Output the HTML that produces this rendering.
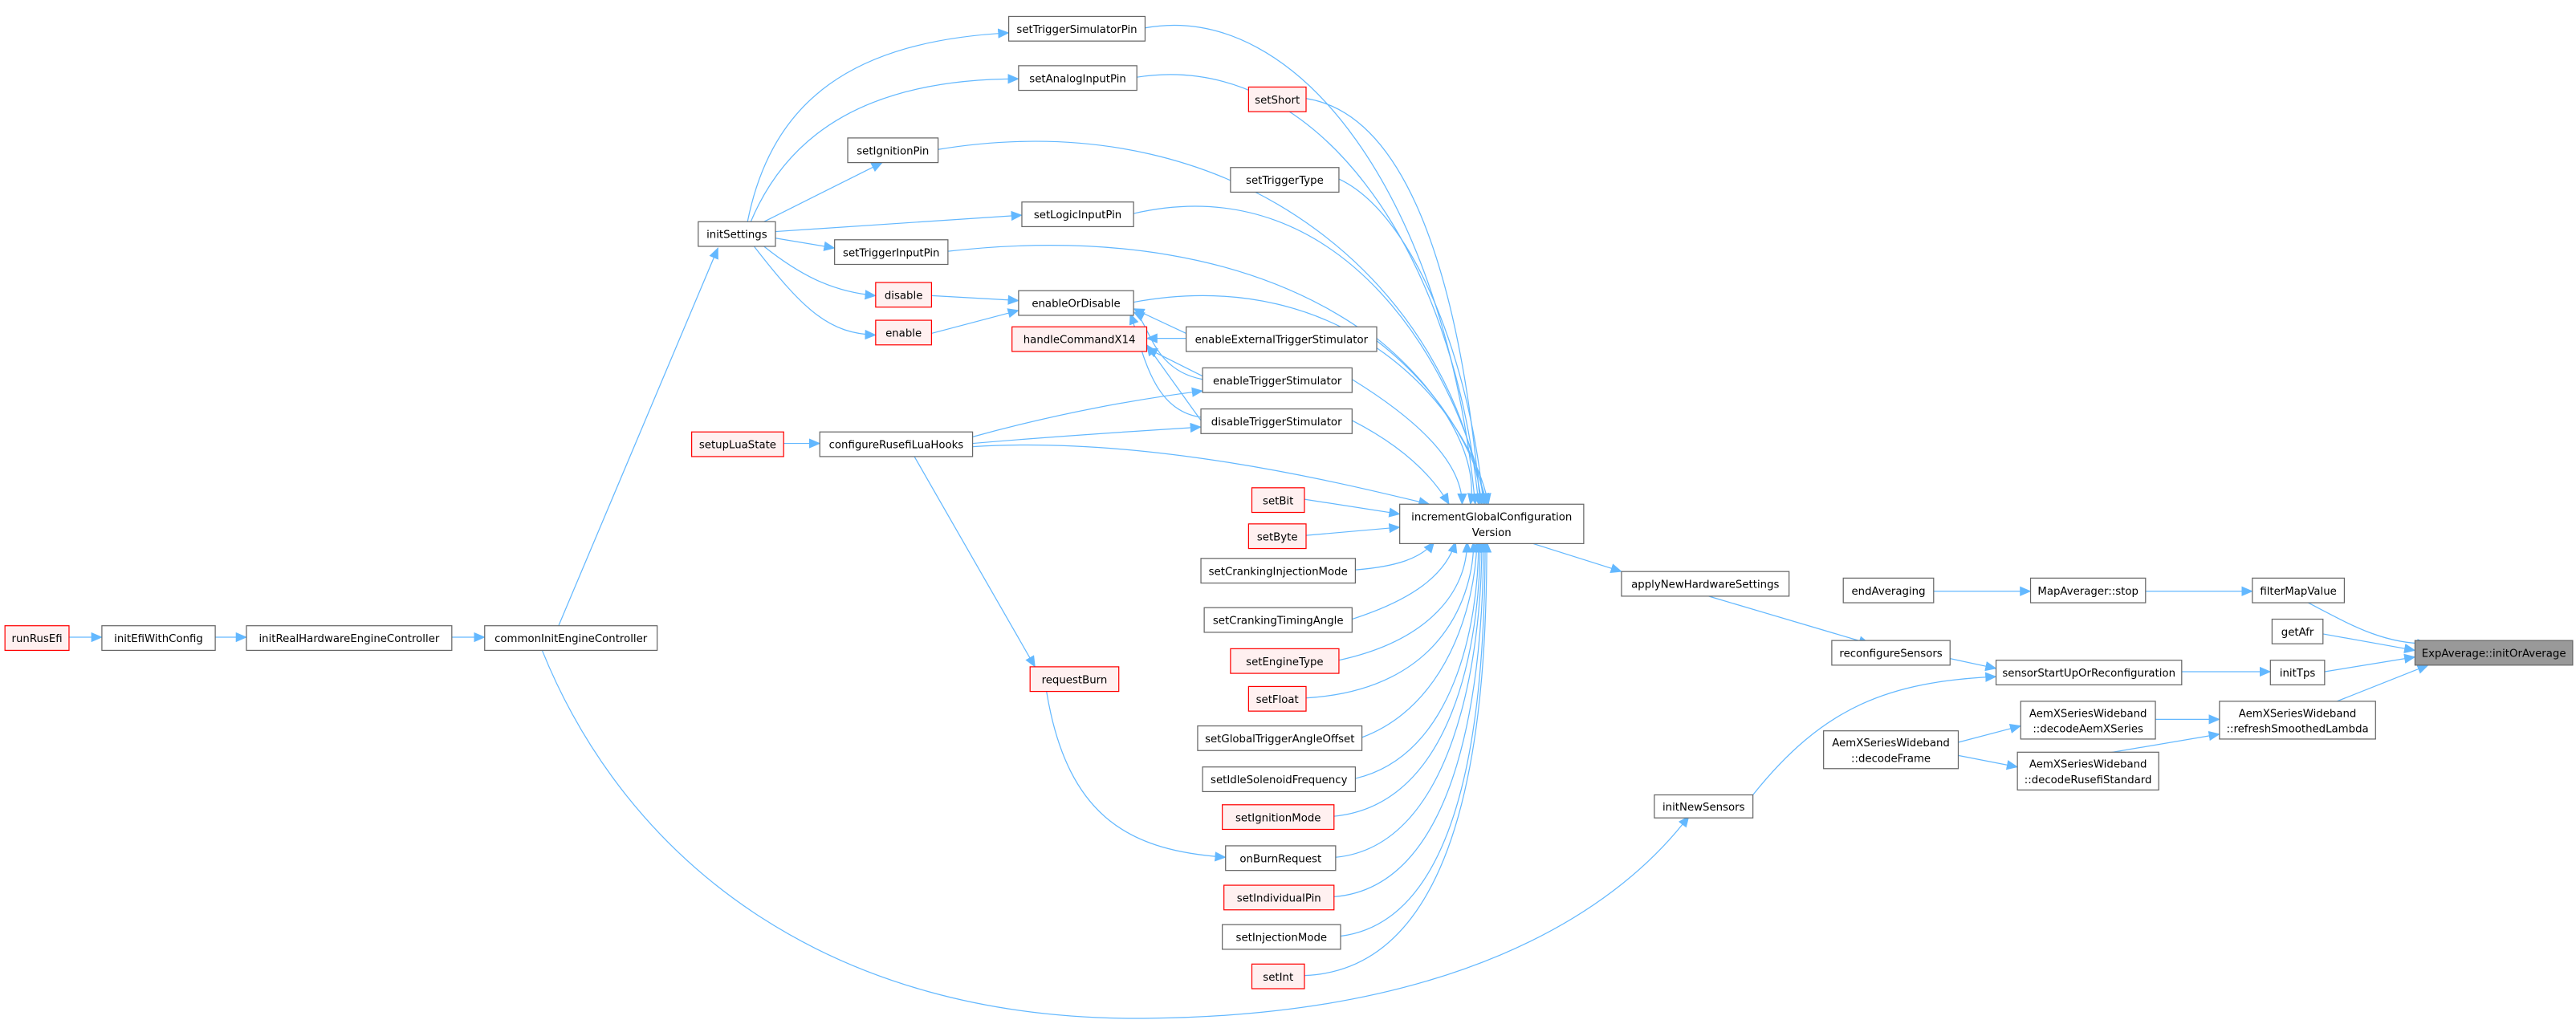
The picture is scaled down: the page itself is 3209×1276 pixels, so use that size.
<!DOCTYPE html>
<html><head><meta charset="utf-8"><style>
html,body{margin:0;padding:0;background:#fff;}
svg{display:block;}
text{font-family:"DejaVu Sans","Liberation Sans",sans-serif;font-size:6.5px;fill:#000;}
.n{fill:#fff;stroke:#666;stroke-width:0.6;}
.r{fill:#fff0f0;stroke:#ff0000;stroke-width:0.6;}
.g{fill:#999;stroke:#666;stroke-width:0.6;}
.e{fill:none;stroke:#63b8ff;stroke-width:0.6;}
</style></head><body>
<svg width="3209" height="1276" viewBox="0 0 1568 623.5" xmlns="http://www.w3.org/2000/svg">
<defs><marker id="a" markerUnits="userSpaceOnUse" markerWidth="7" markerHeight="6" refX="6.5" refY="3" orient="auto"><path d="M0,0 L7,3 L0,6 z" fill="#63b8ff"/></marker></defs>
<g class="e" marker-end="url(#a)">
<path d="M42,388 L62,388"/>
<path d="M131,388 L150,388"/>
<path d="M275,388 L295,388"/>
<path d="M340,381 L437,151"/>
<path d="M330,396 C380,520 500,623 700,620 C880,618 980,560 1028,497"/>
<path d="M455,135 C470,60 520,25 614,20"/>
<path d="M457,135 C480,80 530,48 620,48"/>
<path d="M465,135 L537,99"/>
<path d="M472,141 L622,131"/>
<path d="M472,145 L508,151"/>
<path d="M465,150 C490,170 510,178 533,180"/>
<path d="M459,150 C490,190 505,203 533,204"/>
<path d="M567,180 L620,183"/>
<path d="M567,203 L620,189"/>
<path d="M477,270 L499,270"/>
<path d="M556,277 L630,406"/>
<path d="M637,421 C650,500 690,518 746,522"/>
<path d="M1067,484 C1110,430 1150,415 1215,412"/>
<path d="M1161,360 L1236,360"/>
<path d="M1306,360 L1371,360"/>
<path d="M1414,386 L1470,396"/>
<path d="M1327,409 L1382,409"/>
<path d="M1415,409 L1470,400"/>
<path d="M1405,367 C1430,380 1450,392 1478,392"/>
<path d="M1420,428 L1478,405"/>
<path d="M1312,438 L1351,438"/>
<path d="M1192,452 L1230,442"/>
<path d="M1192,460 L1228,467"/>
<path d="M1280,459 L1351,447"/>
<path d="M1187,401 L1215,407"/>
<path d="M1040,363 L1138,392"/>
<path d="M930,330 L987,348"/>
<path d="M697,17 C790,0 880,120 898,307"/>
<path d="M692,47 C800,30 885,150 900,307"/>
<path d="M795,60 C860,70 890,180 901,307"/>
<path d="M571,91 C760,60 885,180 902,307"/>
<path d="M815,109 C860,130 895,220 903,307"/>
<path d="M690,130 C820,100 890,230 904,307"/>
<path d="M577,153 C780,130 885,220 905,307"/>
<path d="M690,184 C820,160 895,250 906,307"/>
<path d="M838,206 C880,240 900,280 895,307"/>
<path d="M823,231 C870,260 890,285 890,307"/>
<path d="M823,256 C860,275 875,295 882,307"/>
<path d="M592,272 C700,265 820,295 870,307"/>
<path d="M794,304 L852,313"/>
<path d="M795,326 L852,321"/>
<path d="M825,347 C850,345 865,340 873,330"/>
<path d="M823,377 C860,365 880,350 886,330"/>
<path d="M815,402 C870,390 893,360 893,330"/>
<path d="M795,425 C880,420 897,360 897,330"/>
<path d="M829,449 C880,430 898,370 899,330"/>
<path d="M825,474 C885,460 900,380 900,330"/>
<path d="M812,497 C885,490 901,390 901,330"/>
<path d="M813,522 C885,515 902,400 902,330"/>
<path d="M812,546 C890,540 903,410 903,330"/>
<path d="M816,570 C895,560 904,420 904,330"/>
<path d="M794,594 C895,590 905,430 905,330"/>
<path d="M722,206 L698,206"/>
<path d="M722,203 L690,188"/>
<path d="M732,229 L698,212"/>
<path d="M732,231 C700,225 700,195 690,190"/>
<path d="M731,254 C700,250 695,210 688,191"/>
<path d="M731,256 L698,210"/>
<path d="M592,266 C650,250 700,242 732,238"/>
<path d="M592,270 C650,265 700,262 731,260"/>
</g>
<g>
<rect class="n" x="614" y="10" width="83" height="15"/><text x="655.5" y="20" text-anchor="middle">setTriggerSimulatorPin</text>
<rect class="n" x="620" y="40" width="72" height="15"/><text x="656" y="50" text-anchor="middle">setAnalogInputPin</text>
<rect class="r" x="760" y="53" width="35" height="15"/><text x="777.5" y="63" text-anchor="middle">setShort</text>
<rect class="n" x="516" y="84" width="55" height="15"/><text x="543.5" y="94" text-anchor="middle">setIgnitionPin</text>
<rect class="n" x="749" y="102" width="66" height="15"/><text x="782" y="112" text-anchor="middle">setTriggerType</text>
<rect class="n" x="622" y="123" width="68" height="15"/><text x="656" y="133" text-anchor="middle">setLogicInputPin</text>
<rect class="n" x="425" y="135" width="47" height="15"/><text x="448.5" y="145" text-anchor="middle">initSettings</text>
<rect class="n" x="508" y="146" width="69" height="15"/><text x="542.5" y="156" text-anchor="middle">setTriggerInputPin</text>
<rect class="r" x="533" y="172" width="34" height="15"/><text x="550" y="182" text-anchor="middle">disable</text>
<rect class="n" x="620" y="177" width="70" height="15"/><text x="655" y="187" text-anchor="middle">enableOrDisable</text>
<rect class="r" x="533" y="195" width="34" height="15"/><text x="550" y="205" text-anchor="middle">enable</text>
<rect class="n" x="722" y="199" width="116" height="15"/><text x="780" y="209" text-anchor="middle">enableExternalTriggerStimulator</text>
<rect class="r" x="616" y="199" width="82" height="15"/><text x="657" y="209" text-anchor="middle">handleCommandX14</text>
<rect class="n" x="732" y="224" width="91" height="15"/><text x="777.5" y="234" text-anchor="middle">enableTriggerStimulator</text>
<rect class="n" x="731" y="249" width="92" height="15"/><text x="777" y="259" text-anchor="middle">disableTriggerStimulator</text>
<rect class="r" x="421" y="263" width="56" height="15"/><text x="449" y="273" text-anchor="middle">setupLuaState</text>
<rect class="n" x="499" y="263" width="93" height="15"/><text x="545.5" y="273" text-anchor="middle">configureRusefiLuaHooks</text>
<rect class="r" x="762" y="297" width="32" height="15"/><text x="778" y="307" text-anchor="middle">setBit</text>
<rect class="n" x="852" y="307" width="112" height="24"/><text x="908" y="317" text-anchor="middle">incrementGlobalConfiguration</text><text x="908" y="326.5" text-anchor="middle">Version</text>
<rect class="r" x="760" y="319" width="35" height="15"/><text x="777.5" y="329" text-anchor="middle">setByte</text>
<rect class="n" x="731" y="340" width="94" height="15"/><text x="778" y="350" text-anchor="middle">setCrankingInjectionMode</text>
<rect class="n" x="733" y="370" width="90" height="15"/><text x="778" y="380" text-anchor="middle">setCrankingTimingAngle</text>
<rect class="n" x="987" y="348" width="102" height="15"/><text x="1038" y="358" text-anchor="middle">applyNewHardwareSettings</text>
<rect class="n" x="1122" y="352" width="55" height="15"/><text x="1149.5" y="362" text-anchor="middle">endAveraging</text>
<rect class="n" x="1236" y="352" width="70" height="15"/><text x="1271" y="362" text-anchor="middle">MapAverager::stop</text>
<rect class="n" x="1371" y="352" width="56" height="15"/><text x="1399" y="362" text-anchor="middle">filterMapValue</text>
<rect class="n" x="1383" y="377" width="31" height="15"/><text x="1398.5" y="387" text-anchor="middle">getAfr</text>
<rect class="g" x="1470" y="390" width="96" height="15"/><text x="1518" y="400" text-anchor="middle">ExpAverage::initOrAverage</text>
<rect class="n" x="1115" y="390" width="72" height="15"/><text x="1151" y="400" text-anchor="middle">reconfigureSensors</text>
<rect class="n" x="1215" y="402" width="113" height="15"/><text x="1271.5" y="412" text-anchor="middle">sensorStartUpOrReconfiguration</text>
<rect class="n" x="1382" y="402" width="33" height="15"/><text x="1398.5" y="412" text-anchor="middle">initTps</text>
<rect class="n" x="1230" y="427" width="82" height="23"/><text x="1271" y="436.5" text-anchor="middle">AemXSeriesWideband</text><text x="1271" y="446" text-anchor="middle">::decodeAemXSeries</text>
<rect class="n" x="1351" y="427" width="95" height="23"/><text x="1398.5" y="436.5" text-anchor="middle">AemXSeriesWideband</text><text x="1398.5" y="446" text-anchor="middle">::refreshSmoothedLambda</text>
<rect class="n" x="1110" y="445" width="82" height="23"/><text x="1151" y="454.5" text-anchor="middle">AemXSeriesWideband</text><text x="1151" y="464" text-anchor="middle">::decodeFrame</text>
<rect class="n" x="1228" y="458" width="86" height="23"/><text x="1271" y="467.5" text-anchor="middle">AemXSeriesWideband</text><text x="1271" y="477" text-anchor="middle">::decodeRusefiStandard</text>
<rect class="n" x="1007" y="484" width="60" height="14"/><text x="1037" y="493.5" text-anchor="middle">initNewSensors</text>
<rect class="r" x="749" y="395" width="66" height="15"/><text x="782" y="405" text-anchor="middle">setEngineType</text>
<rect class="r" x="760" y="418" width="35" height="15"/><text x="777.5" y="428" text-anchor="middle">setFloat</text>
<rect class="r" x="627" y="406" width="54" height="15"/><text x="654" y="416" text-anchor="middle">requestBurn</text>
<rect class="n" x="729" y="442" width="100" height="15"/><text x="779" y="452" text-anchor="middle">setGlobalTriggerAngleOffset</text>
<rect class="n" x="732" y="467" width="93" height="15"/><text x="778.5" y="477" text-anchor="middle">setIdleSolenoidFrequency</text>
<rect class="r" x="744" y="490" width="68" height="15"/><text x="778" y="500" text-anchor="middle">setIgnitionMode</text>
<rect class="n" x="746" y="515" width="67" height="15"/><text x="779.5" y="525" text-anchor="middle">onBurnRequest</text>
<rect class="r" x="745" y="539" width="67" height="15"/><text x="778.5" y="549" text-anchor="middle">setIndividualPin</text>
<rect class="n" x="744" y="563" width="72" height="15"/><text x="780" y="573" text-anchor="middle">setInjectionMode</text>
<rect class="r" x="762" y="587" width="32" height="15"/><text x="778" y="597" text-anchor="middle">setInt</text>
<rect class="r" x="3" y="381" width="39" height="15"/><text x="22.5" y="391" text-anchor="middle">runRusEfi</text>
<rect class="n" x="62" y="381" width="69" height="15"/><text x="96.5" y="391" text-anchor="middle">initEfiWithConfig</text>
<rect class="n" x="150" y="381" width="125" height="15"/><text x="212.5" y="391" text-anchor="middle">initRealHardwareEngineController</text>
<rect class="n" x="295" y="381" width="105" height="15"/><text x="347.5" y="391" text-anchor="middle">commonInitEngineController</text>
</g>
</svg>
</body></html>
